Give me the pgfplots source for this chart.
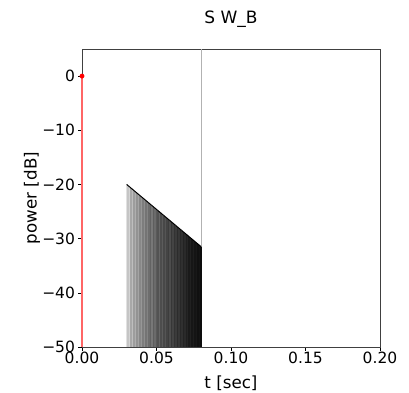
\documentclass[border=0pt]{standalone}
\usepackage{fontspec}
\setmainfont{DejaVu Sans}
\usepackage{pgfplots}
\usepackage{pgfplotstable}
\pgfplotsset{compat=1.18}
\pgfplotstableread{
x y c
0.030 -20.00 0.02
0.031 -20.23 0.15
0.032 -20.46 0.08
0.033 -20.69 0.28
0.034 -20.92 0.18
0.035 -21.15 0.33
0.036 -21.38 0.25
0.037 -21.61 0.38
0.038 -21.84 0.30
0.039 -22.07 0.43
0.040 -22.30 0.36
0.041 -22.53 0.48
0.042 -22.76 0.40
0.043 -22.99 0.52
0.044 -23.22 0.45
0.045 -23.45 0.55
0.046 -23.68 0.60
0.047 -23.91 0.50
0.048 -24.14 0.62
0.049 -24.37 0.56
0.050 -24.60 0.64
0.051 -24.83 0.67
0.052 -25.06 0.58
0.053 -25.29 0.70
0.054 -25.52 0.63
0.055 -25.75 0.72
0.056 -25.98 0.66
0.057 -26.21 0.74
0.058 -26.44 0.77
0.059 -26.67 0.70
0.060 -26.90 0.80
0.061 -27.13 0.74
0.062 -27.36 0.82
0.063 -27.59 0.78
0.064 -27.82 0.85
0.065 -28.05 0.80
0.066 -28.28 0.87
0.067 -28.51 0.83
0.068 -28.74 0.89
0.069 -28.97 0.86
0.070 -29.20 0.91
0.071 -29.43 0.88
0.072 -29.66 0.93
0.073 -29.89 0.90
0.074 -30.12 0.95
0.075 -30.35 0.92
0.076 -30.58 0.96
0.077 -30.81 0.94
0.078 -31.04 0.98
0.079 -31.27 0.96
0.080 -31.50 1.00
}\stems
\begin{document}
\begin{tikzpicture}
\useasboundingbox (-82pt,-45pt) rectangle (327pt,347pt);
\begin{axis}[
  scale only axis, width=298pt, height=298pt,
  xmin=0, xmax=0.2, ymin=-50, ymax=5,
  clip=false,
  xtick={0,0.05,0.1,0.15,0.2},
  xticklabels={0.00,0.05,0.10,0.15,0.20},
  ytick={-50,-40,-30,-20,-10,0},
  yticklabels={−50,−40,−30,−20,−10,0},
  xtick pos=lower, ytick pos=left,
  tick align=outside, major tick length=3.5pt,
  tick style={black, line width=0.6pt},
  axis line style={line width=0.6pt, black!75},
  tick label style={font=\fontsize{15.5}{18}\selectfont},
  xticklabel style={yshift=2pt},
  label style={font=\fontsize{16.7}{20}\selectfont},
  title style={font=\fontsize{17}{20}\selectfont, at={(axis description cs:0.5,1.064)}, anchor=base},
  title={S W\_B},
  xlabel={t [sec]},
  ylabel={power [dB]},
  xlabel style={at={(axis description cs:0.5,-0.121)}, anchor=center},
  ylabel style={at={(axis description cs:-0.168,0.5)}, anchor=center},
  colormap={stemgray}{gray(0cm)=(0.9); gray(1cm)=(0.05)},
  point meta min=0, point meta max=1,
]
\addplot[gray!60, line width=0.4pt] coordinates {(0.08,-50) (0.08,5)};
\addplot[quiver={u=0, v={-50-\thisrow{y}}, colored}, -, line width=1.6pt, point meta=\thisrow{c}] table[x=x, y=y] {\stems};
\addplot[black, line width=1pt] table[x=x, y=y] {\stems};
\addplot[red!60, line width=1.4pt] coordinates {(0,-50) (0,0)};
\addplot[only marks, mark=*, mark size=2.2pt, red] coordinates {(0,0)};
\end{axis}
\end{tikzpicture}
\end{document}
